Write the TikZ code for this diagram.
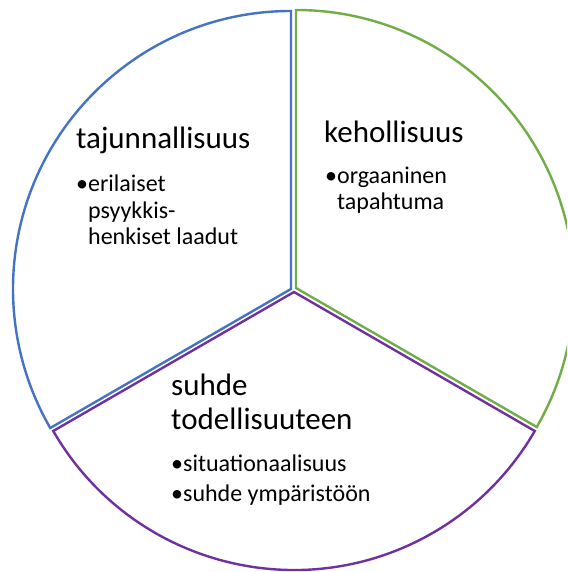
\documentclass[tikz,border=0pt]{standalone}
\usepackage{fontspec}
\setmainfont{Carlito}
\usepackage{tikz}
\usetikzlibrary{positioning, calc}
\definecolor{sectorblue}{HTML}{4472C4}
\definecolor{sectorgreen}{HTML}{70AD47}
\definecolor{sectorpurple}{HTML}{7030A0}
\tikzstyle{sector} = [line width=2.4pt, line join=miter]
\tikzstyle{heading} = [anchor=base west, inner sep=0pt, align=left, font=\fontsize{31}{34.5}\selectfont]
\tikzstyle{items} = [anchor=base west, inner sep=0pt, align=left, font=\fontsize{24}{26.5}\selectfont]

\begin{document}
\begin{tikzpicture}[x=1pt, y=1pt]
    \useasboundingbox (0,0) rectangle (567,572);
    \clip (0,0) rectangle (567,572);
    \coordinate (BlueCentre) at (291,283);
    \coordinate (GreenCentre) at (296,284);
    \coordinate (PurpleCentre) at (294,280);
    \draw [sector, sectorblue] (BlueCentre) -- ++(90:278) arc[start angle=90, end angle=210, radius=278] -- cycle;
    \draw [sector, sectorgreen] (GreenCentre) -- ++(90:278) arc[start angle=90, end angle=-30, radius=278] -- cycle;
    \draw [sector, sectorpurple] (PurpleCentre) -- ++(210:278) arc[start angle=210, end angle=330, radius=278] -- cycle;
    % text: the base anchor sits on the last line
    \node (Tajunnallisuus) [heading] at (76,423) {tajunnallisuus};
    \node (TajItems) [items] at (76,327) {\textbullet erilaiset\\\phantom{\textbullet}psyykkis-\\\phantom{\textbullet}henkiset laadut};
    \node (Kehollisuus) [heading] at (324,429) {kehollisuus};
    \node (KehItems) [items] at (325,362) {\textbullet orgaaninen\\\phantom{\textbullet}tapahtuma};
    \node (Suhde) [heading] at (171,142) {suhde\\todellisuuteen};
    \node (SuhdeItems) [items] at (171,70) {\textbullet situationaalisuus\\[3.5pt]\textbullet suhde ympäristöön};
\end{tikzpicture}
\end{document}
